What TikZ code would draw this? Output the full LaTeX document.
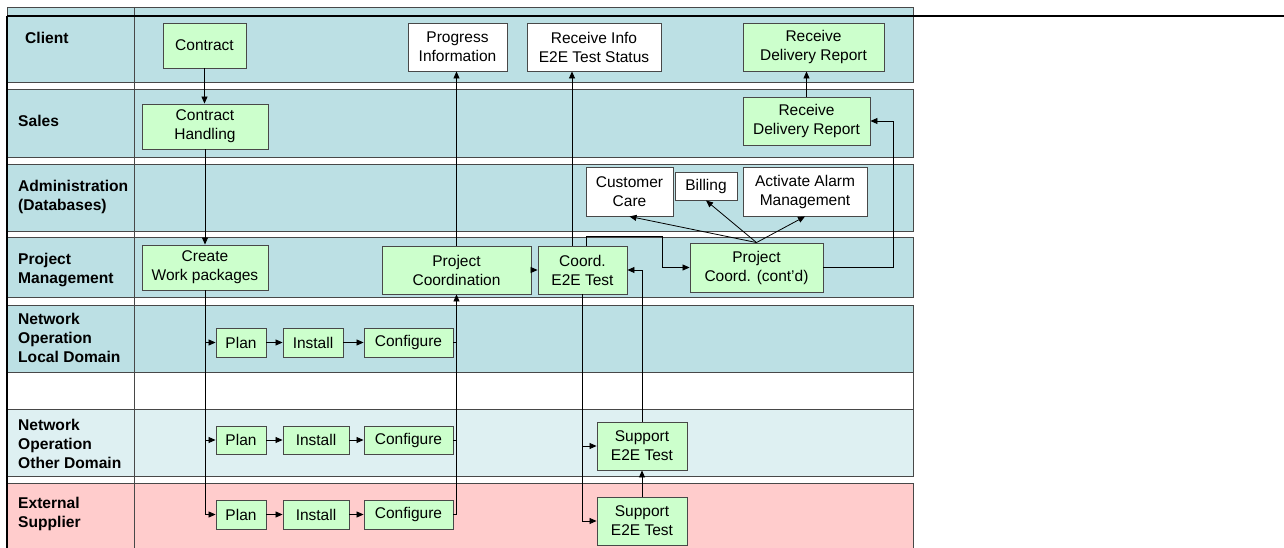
\documentclass[tikz,border=0pt]{standalone}
\usepackage{fontspec}
\setmainfont{Liberation Sans}
\usetikzlibrary{arrows.meta}
\definecolor{laneteal}{RGB}{188,224,228}
\definecolor{lanepale}{RGB}{222,240,242}
\definecolor{lanepink}{RGB}{255,204,204}
\definecolor{boxgreen}{RGB}{204,255,204}
\definecolor{edgegray}{RGB}{72,72,72}
\tikzset{
  x=1pt, y=-1pt,
  lane/.style={draw=edgegray, line width=0.9pt},
  lanelabel/.style={anchor=west, align=left, inner sep=0pt,
    font=\fontsize{15.6}{19}\selectfont\bfseries},
  gbox/.style={draw=edgegray, fill=boxgreen, line width=0.9pt, inner sep=0pt,
    align=center, font=\fontsize{15.5}{19}\selectfont},
  wbox/.style={gbox, fill=white},
  arr/.style={draw, line width=0.8pt, -{Triangle[length=7pt,width=6pt]}},
  wire/.style={draw, line width=0.8pt}
}
\begin{document}
\begin{tikzpicture}
\useasboundingbox (0,0) rectangle (1284,548);
\fill[white] (0,0) rectangle (1284,548);

% swim lanes
\path[lane, fill=laneteal] (7,7) rectangle (913,82);
\path[lane, fill=laneteal] (7,89) rectangle (913,157);
\path[lane, fill=laneteal] (7,164) rectangle (913,231);
\path[lane, fill=laneteal] (7,237) rectangle (913,297);
\path[lane, fill=laneteal] (7,305) rectangle (913,372);
\path[lane, fill=white] (7,372) rectangle (913,409);
\path[lane, fill=lanepale] (7,409) rectangle (913,476);
\path[lane, fill=lanepink] (7,483) rectangle (913,551);

% header rule, left frame and label column divider
\draw[line width=0.8pt, edgegray] (134,7) -- (134,548);
\draw[line width=2pt] (7,16) -- (1284,16);
\draw[line width=2.2pt] (7,16) -- (7,548);

% lane labels
\node[lanelabel] (lclient) at (25,38) {Client};
\node[lanelabel] (lsales) at (18,121) {Sales};
\node[lanelabel] (ladmin) at (18,197) {Administration\\(Databases)};
\node[lanelabel] (lpm) at (18,270) {Project\\Management};
\node[lanelabel] (lnold) at (18,338) {Network\\Operation\\Local Domain};
\node[lanelabel] (lnood) at (18,444) {Network\\Operation\\Other Domain};
\node[lanelabel] (lsup) at (18,514) {External\\Supplier};

% Client
\node[gbox, minimum width=83, minimum height=45] (contract) at (204.5,45.5) {Contract};
\node[wbox, minimum width=99, minimum height=48] (prog) at (457.5,47) {Progress\\Information};
\node[wbox, minimum width=134, minimum height=48] (rinfo) at (594,47) {Receive Info\\E2E Test Status};
\node[gbox, minimum width=141, minimum height=48] (rdrc) at (813.5,47) {Receive\\Delivery Report};

% Sales
\node[gbox, minimum width=126, minimum height=45] (chand) at (205,126.5) {Contract\\Handling};
\node[gbox, minimum width=127, minimum height=48] (rdrs) at (806.5,121) {Receive\\Delivery Report};

% Administration
\node[wbox, minimum width=87, minimum height=49] (ccare) at (629.5,191.5) {Customer\\Care};
\node[wbox, minimum width=62, minimum height=28] (billing) at (706,186) {Billing};
\node[wbox, minimum width=124, minimum height=49] (alarm) at (805,191.5) {Activate Alarm\\Management};

% Project management
\node[gbox, minimum width=126, minimum height=45] (cwp) at (205,267.5) {Create\\Work packages};
\node[gbox, minimum width=149, minimum height=48] (pc) at (456.5,270) {Project\\Coordination};
\node[gbox, minimum width=89, minimum height=48] (ce2e) at (582.5,270) {Coord.\\E2E Test};
\node[gbox, minimum width=133, minimum height=49] (pcc) at (756.5,267.5) {Project\\Coord. (cont'd)};

% Network operation, local domain
\node[gbox, minimum width=50, minimum height=29] (planl) at (241,342.5) {Plan};
\node[gbox, minimum width=60, minimum height=29] (instl) at (313,342.5) {Install};
\node[gbox, minimum width=89, minimum height=29] (cfgl) at (408.5,342.5) {Configure};

% Network operation, other domain
\node[gbox, minimum width=50, minimum height=28] (plano) at (241,440) {Plan};
\node[gbox, minimum width=66, minimum height=28] (insto) at (316,440) {Install};
\node[gbox, minimum width=89, minimum height=28] (cfgo) at (408.5,440) {Configure};
\node[gbox, minimum width=90, minimum height=48] (supo) at (642,446) {Support\\E2E Test};

% External supplier
\node[gbox, minimum width=50, minimum height=29] (plane) at (241,514.5) {Plan};
\node[gbox, minimum width=66, minimum height=29] (inste) at (316,514.5) {Install};
\node[gbox, minimum width=89, minimum height=29] (cfge) at (408.5,514.5) {Configure};
\node[gbox, minimum width=90, minimum height=48] (supe) at (642,521) {Support\\E2E Test};

% routing points
\coordinate (xinfo) at (572,0);
\coordinate (k1) at (586,236);
\coordinate (k2) at (662,236);
\coordinate (xret) at (893,0);

% contract to work packages
\draw[arr] (contract.south) -- (contract.south |- chand.north);
\draw[arr] (chand.south) -- (chand.south |- cwp.north);
\draw[arr] (cwp.south) |- (plane.west);
\draw[arr] (cwp.south |- planl.west) -- (planl.west);
\draw[arr] (cwp.south |- plano.west) -- (plano.west);

% plan, install, configure chains
\draw[arr] (planl.east) -- (instl.west);
\draw[arr] (instl.east) -- (cfgl.west);
\draw[arr] (plano.east) -- (insto.west);
\draw[arr] (insto.east) -- (cfgo.west);
\draw[arr] (plane.east) -- (inste.west);
\draw[arr] (inste.east) -- (cfge.west);

% configuration results back to project coordination
\draw[arr] (cfge.east) -| (pc.south);
\draw[wire] (cfgl.east) -- (cfgl.east -| pc.south);
\draw[wire] (cfgo.east) -- (cfgo.east -| pc.south);
\draw[arr] (pc.north) -- (pc.north |- prog.south);
\draw[arr] (pc.east) -- (ce2e.west);

% end-to-end test
\draw[arr] (ce2e.north -| xinfo) -- (rinfo.south -| xinfo);
\draw[arr] (ce2e.south) |- (supe.west);
\draw[arr] (ce2e.south |- supo.west) -- (supo.west);
\draw[arr] (supe.north) -- (supo.south);
\draw[arr] (supo.north) |- (ce2e.east);
\draw[arr] (ce2e.north -| k1) -- (k1) -- (k2) |- (pcc.west);

% continued coordination
\draw[arr] (pcc.north) -- (ccare.south);
\draw[arr] (pcc.north) -- (billing.south);
\draw[arr] (pcc.north) -- (alarm.south);
\draw[arr] (pcc.east) -- (pcc.east -| xret) |- (rdrs.east);
\draw[arr] (rdrs.north) -- (rdrs.north |- rdrc.south);
\end{tikzpicture}
\end{document}
